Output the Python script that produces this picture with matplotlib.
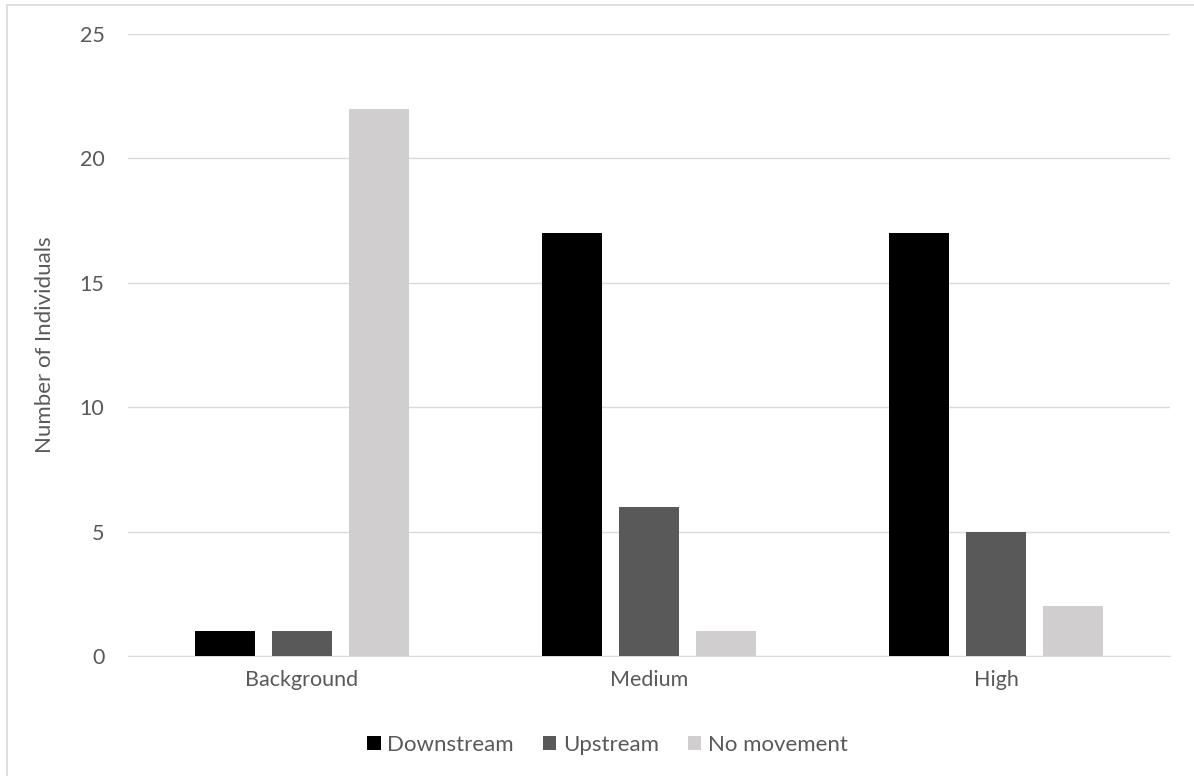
import matplotlib.pyplot as plt
import numpy as np
from matplotlib.lines import Line2D

plt.rcParams['font.family'] = ['Lato', 'DejaVu Sans']

categories = ['Background', 'Medium', 'High']
downstream = [1, 17, 17]
upstream = [1, 6, 5]
no_movement = [22, 1, 2]

series_names = ['Downstream', 'Upstream', 'No movement']
colors = ['#000000', '#595959', '#d0cece']
text_color = '#595959'

fig = plt.figure(figsize=(11.94, 7.76), dpi=100)
ax = fig.add_axes([128 / 1194, 1 - 656 / 776, 1042 / 1194, 622 / 776])

x = np.arange(len(categories))
width = 0.173
step = 0.222
for i, (vals, name, c) in enumerate(zip([downstream, upstream, no_movement], series_names, colors)):
    ax.bar(x + (i - 1) * step, vals, width, color=c, label=name, zorder=3)

ax.set_xlim(-0.5, 2.5)
ax.set_ylim(0, 25)
ax.set_yticks(range(0, 26, 5))
ax.set_xticks(x)
ax.set_xticklabels(categories)
ax.grid(axis='y', color='#d9d9d9', linewidth=1, zorder=0)
for s in ['top', 'right', 'left']:
    ax.spines[s].set_visible(False)
ax.spines['bottom'].set_color('#d9d9d9')
ax.tick_params(axis='both', length=0, colors=text_color, labelsize=15.5)
ax.tick_params(axis='y', pad=17)
ax.tick_params(axis='x', pad=10)
ax.set_ylabel('Number of Individuals', color=text_color, fontsize=16, labelpad=18)

ax.legend(loc='upper center', bbox_to_anchor=(0.46, -0.095), ncol=3, frameon=False,
          fontsize=16, labelcolor=text_color, handlelength=0.6, handleheight=0.6,
          handletextpad=0.3, columnspacing=1.3)

# partial outer frame along the top and left edges
fig.add_artist(Line2D([7 / 1194, 1], [1 - 5 / 776, 1 - 5 / 776], color='#d9d9d9', lw=1.2,
                      transform=fig.transFigure))
fig.add_artist(Line2D([7 / 1194, 7 / 1194], [0, 1 - 5 / 776], color='#d9d9d9', lw=1.2,
                      transform=fig.transFigure))

fig.savefig('out.png', dpi=100)
